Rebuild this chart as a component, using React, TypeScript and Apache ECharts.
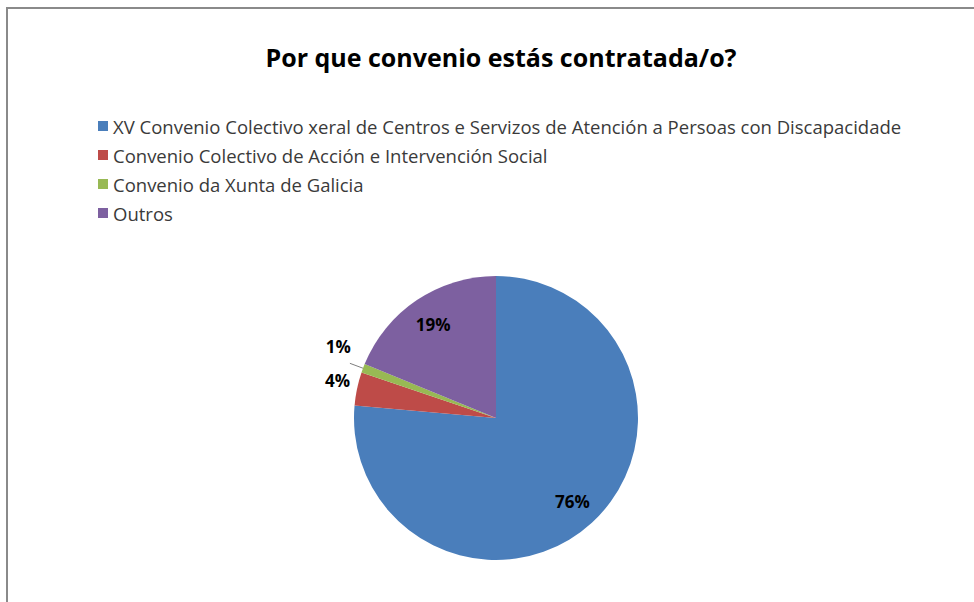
import React, { useEffect, useRef } from "react";
import * as echarts from "echarts";

const titleText = "Por que convenio estás contratada/o?";
const categories = [
  "XV Convenio Colectivo xeral de Centros e Servizos de Atención a Persoas con Discapacidade",
  "Convenio Colectivo de Acción e Intervención Social",
  "Convenio da Xunta de Galicia",
  "Outros",
];
const values = [76.4, 3.8, 1.0, 18.8];
const colors = ["#4A7EBB", "#BE4B48", "#98B954", "#7D60A0"];
const insideLabel = [true, false, false, true];

const FONT = "'Open Sans', Lato, sans-serif";

export default function App() {
  const ref = useRef<HTMLDivElement>(null);
  useEffect(() => {
    if (!ref.current) return;
    const chart = echarts.init(ref.current, undefined, { renderer: "svg" });
    const fmt = (p: any) => Math.round(p.percent) + "%";
    const labelStyle = { color: "#000", fontWeight: "bold" as const, fontSize: 17, fontFamily: FONT };
    const mainData = categories.map((name, i) => ({
      name,
      value: values[i],
      itemStyle: { color: colors[i] },
      label: { show: !insideLabel[i] },
      labelLine: { show: i === 2, length: i === 2 ? 14 : 4, length2: 0 },
    }));
    const overlayData = categories.map((name, i) => ({
      name,
      value: values[i],
      label: { show: insideLabel[i] },
    }));
    chart.setOption({
      animation: false,
      backgroundColor: "#fff",
      title: {
        text: titleText,
        left: 488,
        textAlign: "center",
        top: 30,
        textStyle: { fontFamily: FONT, fontWeight: "bold", fontSize: 25, color: "#000" },
      },
      legend: {
        orient: "vertical",
        left: 85,
        top: 102,
        itemWidth: 10,
        itemHeight: 10,
        itemGap: 9,
        icon: "rect",
        data: categories,
        textStyle: { fontFamily: FONT, fontSize: 18.5, color: "#3a3a3a", lineHeight: 20 },
      },
      series: [
        {
          type: "pie",
          center: [488, 409],
          radius: [0, 142],
          startAngle: 90,
          clockwise: true,
          avoidLabelOverlap: false,
          data: mainData,
          label: {
            position: "outside",
            formatter: fmt,
            distanceToLabelLine: 3,
            ...labelStyle,
          },
          labelLine: { lineStyle: { color: "#7f7f7f", width: 1 } },
          labelLayout: (p: any) =>
            p.dataIndex === 2 ? { dx: 4, dy: -17 } : p.dataIndex === 1 ? { dy: -7 } : {},
          emphasis: { disabled: true },
        },
        {
          type: "pie",
          center: [488, 409],
          radius: [84, 136],
          startAngle: 90,
          clockwise: true,
          silent: true,
          legendHoverLink: false,
          itemStyle: { color: "rgba(0,0,0,0)" },
          data: overlayData,
          label: { position: "inside", formatter: fmt, ...labelStyle },
          labelLine: { show: false },
          emphasis: { disabled: true },
        },
      ],
    });
    return () => chart.dispose();
  }, []);
  return (
    <div
      style={{
        position: "absolute",
        left: 6,
        top: 7,
        width: 968,
        height: 595,
        boxSizing: "border-box",
        borderTop: "2px solid #8a8a8a",
        borderLeft: "2px solid #8a8a8a",
        background: "#fff",
      }}
    >
      <div ref={ref} style={{ width: 966, height: 593 }} />
    </div>
  );
}
